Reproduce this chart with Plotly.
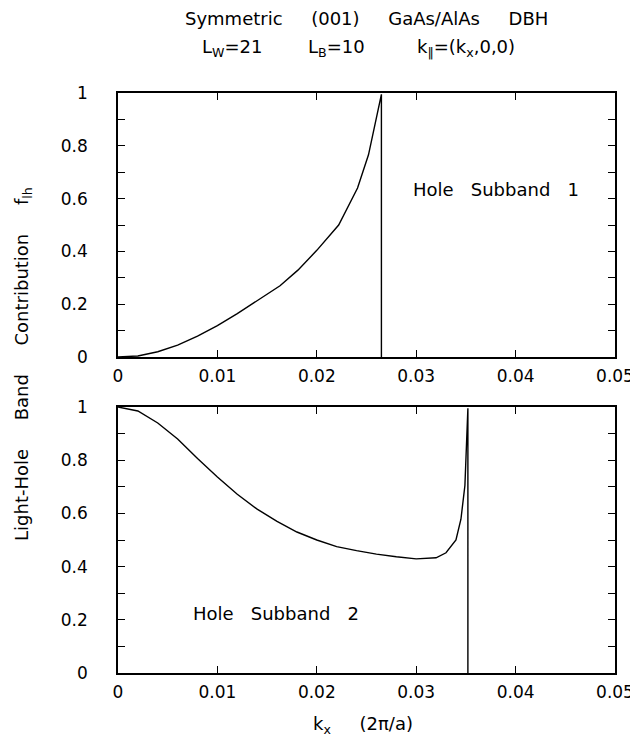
import plotly.graph_objects as go

# ---- data ----
# Hole subband 1 (top panel): k_x (2pi/a) vs light-hole contribution f_lh
k_sub1 = [0, 0.002, 0.004, 0.006, 0.008, 0.010, 0.012, 0.014, 0.0163, 0.0181,
          0.020, 0.0222, 0.0241, 0.0252, 0.0265, 0.0265]
f_sub1 = [0, 0.004, 0.020, 0.045, 0.079, 0.119, 0.164, 0.214, 0.270, 0.329,
          0.404, 0.500, 0.640, 0.766, 0.995, 0]

# Hole subband 2 (bottom panel)
k_sub2 = [0, 0.002, 0.004, 0.006, 0.008, 0.010, 0.012, 0.014, 0.016, 0.018,
          0.020, 0.022, 0.024, 0.026, 0.028, 0.030, 0.032, 0.033, 0.034,
          0.0345, 0.0349, 0.0352, 0.0352]
f_sub2 = [1.0, 0.985, 0.940, 0.880, 0.806, 0.737, 0.672, 0.616, 0.570, 0.530,
          0.500, 0.475, 0.460, 0.447, 0.437, 0.429, 0.433, 0.452, 0.500,
          0.578, 0.705, 0.995, 0]

x_ticks = [0, 0.01, 0.02, 0.03, 0.04, 0.05]
x_labels = ["0", "0.01", "0.02", "0.03", "0.04", "0.05"]
y_ticks = [0, 0.2, 0.4, 0.6, 0.8, 1.0]
y_labels = ["0", "0.2", "0.4", "0.6", "0.8", "1"]
y_minor = [0.1, 0.3, 0.5, 0.7, 0.9]

FONT = "DejaVu Sans"
W, H = 638, 747
L, R, T, B = 110, 26, 85, 82
plot_h = H - T - B  # 580


def py(pix):
    """pixel row -> paper y"""
    return (H - B - pix) / plot_h


def px(pix):
    return (pix - L) / (W - L - R)


fig = go.Figure()
fig.add_trace(go.Scatter(x=k_sub1, y=f_sub1, mode="lines",
                         line=dict(color="black", width=1.4),
                         xaxis="x", yaxis="y", showlegend=False))
fig.add_trace(go.Scatter(x=k_sub2, y=f_sub2, mode="lines",
                         line=dict(color="black", width=1.4),
                         xaxis="x2", yaxis="y2", showlegend=False))

tickfont = dict(family=FONT, size=17, color="black")
xcommon = dict(range=[0, 0.05], tickvals=x_ticks, ticktext=x_labels,
               ticks="inside", ticklen=7, tickwidth=1.3, tickcolor="black",
               showline=True, linecolor="black", linewidth=1.5, mirror="ticks",
               showgrid=False, zeroline=False, tickfont=tickfont,
               ticklabelstandoff=3)
ycommon = dict(range=[0, 1], tickvals=y_ticks, ticktext=y_labels,
               ticks="inside", ticklen=7, tickwidth=1.3, tickcolor="black",
               showline=True, linecolor="black", linewidth=1.5, mirror="ticks",
               showgrid=False, zeroline=False, tickfont=tickfont,
               ticklabelstandoff=25,
               minor=dict(tickvals=y_minor, ticks="inside", ticklen=7,
                          tickwidth=1.3, tickcolor="black", showgrid=False))

top_dom = [py(349), 1.0]
bot_dom = [0.0, py(399)]

fig.update_layout(
    width=W, height=H,
    margin=dict(l=L, r=R, t=T, b=B),
    paper_bgcolor="white", plot_bgcolor="white",
    font=dict(family=FONT, color="black"),
    xaxis=dict(xcommon, domain=[0, 1], anchor="y"),
    yaxis=dict(ycommon, domain=top_dom, anchor="x"),
    xaxis2=dict(xcommon, domain=[0, 1], anchor="y2"),
    yaxis2=dict(ycommon, domain=bot_dom, anchor="x2"),
)

tfont = dict(family=FONT, size=18, color="black")
sp = "&nbsp;"
annotations = [
    # title line 1
    dict(text="Symmetric" + sp * 5 + "(001)" + sp * 5 + "GaAs/AlAs" + sp * 5 + "DBH",
         x=px(361), y=py(-2), xref="paper", yref="paper", showarrow=False,
         xanchor="center", yanchor="top", font=tfont),
    # title line 2 pieces
    dict(text="L<sub>W</sub>=21", x=px(225), y=py(40), xref="paper", yref="paper",
         showarrow=False, xanchor="center", yanchor="middle", font=tfont),
    dict(text="L<sub>B</sub>=10", x=px(331), y=py(40), xref="paper", yref="paper",
         showarrow=False, xanchor="center", yanchor="middle", font=tfont),
    dict(text="k<sub>‖</sub>=(k<sub>x</sub>,0,0)", x=px(462), y=py(40),
         xref="paper", yref="paper", showarrow=False, xanchor="center",
         yanchor="middle", font=tfont),
    # panel labels
    dict(text="Hole" + sp * 3 + "Subband" + sp * 3 + "1", x=px(492), y=py(182),
         xref="paper", yref="paper", showarrow=False, xanchor="center",
         yanchor="middle", font=tfont),
    dict(text="Hole" + sp * 3 + "Subband" + sp * 3 + "2", x=px(270), y=py(605),
         xref="paper", yref="paper", showarrow=False, xanchor="center",
         yanchor="middle", font=tfont),
    # x-axis title
    dict(text="k<sub>x</sub>" + sp * 5 + "(2π/a)", x=px(357), y=py(717),
         xref="paper", yref="paper", showarrow=False, xanchor="center",
         yanchor="middle", font=tfont),
    # y-axis title
    dict(text="Light-Hole" + sp * 5 + "Band" + sp * 5 + "Contribution" + sp * 5 + "f<sub>lh</sub>",
         x=px(14), y=py(356), xref="paper", yref="paper", showarrow=False,
         textangle=-90, xanchor="center", yanchor="middle", font=tfont),
]
fig.update_layout(annotations=annotations)

fig.write_html("out.html")
